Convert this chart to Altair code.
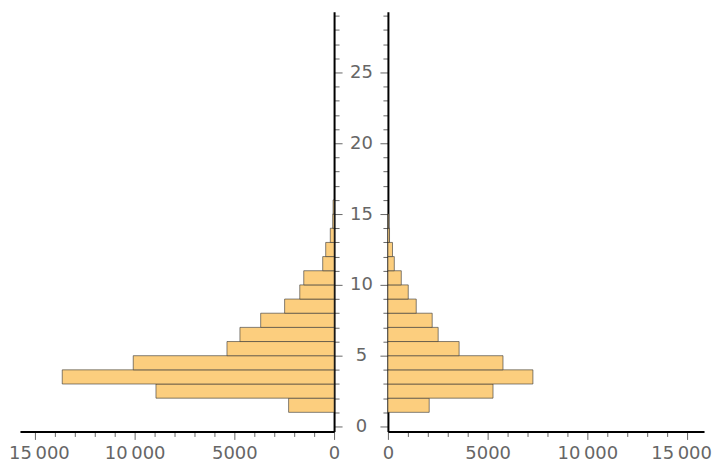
import altair as alt
import pandas as pd

# Bin edges (lower edge of each unit-wide bin)
left_bins = [1, 2, 3, 4, 5, 6, 7, 8, 9, 10, 11, 12, 13, 14, 15]
left_counts = [2280, 8930, 13630, 10070, 5370, 4720, 3680, 2480, 1720, 1520, 570, 420, 190, 70, 50]

right_bins = [1, 2, 3, 4, 5, 6, 7, 8, 9, 10, 11, 12, 13, 14]
right_counts = [2070, 5270, 7270, 5770, 3570, 2520, 2220, 1420, 1020, 670, 320, 230, 80, 40]

x_ticks = list(range(0, 16000, 1000))
y_ticks = list(range(0, 30))

FILL = "#FCCE7E"
FONT = "DejaVu Sans"
GREY = "#666666"

df_left = pd.DataFrame({"start": left_bins, "end": [b + 1 for b in left_bins], "count": left_counts})
df_right = pd.DataFrame({"start": right_bins, "end": [b + 1 for b in right_bins], "count": right_counts})

x_label_expr = ("datum.value % 5000 != 0 ? '' : (datum.value >= 10000 ? "
                "format(floor(datum.value / 1000), 'd') + '\u2009000' : format(datum.value, 'd'))")


def x_axis(offset_cond):
    kw = dict(
        values=x_ticks, labelExpr=x_label_expr, title=None, grid=False,
        domainColor="black", domainWidth=2, tickColor=GREY, tickWidth=1,
        tickSize={"condition": {"test": "datum.value % 5000 === 0", "value": 8}, "value": 5},
        labelColor=GREY, labelFont=FONT,
        labelFontSize={"condition": {"test": "datum.value % 5000 === 0", "value": 18}, "value": 0},
        labelPadding=4.7,
        labelAngle=0, labelOverlap=False, labelFlush=False, labelBound=False,
        labelOffset=offset_cond,
    )
    return alt.Axis(**kw)


def y_axis(orient, labels):
    kw = dict(
        orient=orient, values=y_ticks, title=None, grid=False,
        domainColor="black", domainWidth=2, tickColor=GREY, tickWidth=1,
        tickSize={"condition": {"test": "datum.value % 5 === 0", "value": 8}, "value": 5},
        labels=labels,
    )
    if labels:
        kw.update(labelExpr="datum.value % 5 === 0 ? datum.label : ''",
                  labelColor=GREY, labelFont=FONT,
                  labelFontSize={"condition": {"test": "datum.value % 5 === 0", "value": 18}, "value": 0},
                  labelAlign="center", labelPadding=19, labelBaseline="middle",
                  labelOverlap=False, labelFlush=False, labelBound=False)
    return alt.Axis(**kw)


y_scale = alt.Scale(domain=[-0.35, 29.3], nice=False, zero=False)

left = alt.Chart(df_left).mark_rect(
    fill=FILL, stroke="#333333", strokeOpacity=0.6, strokeWidth=1
).encode(
    x=alt.X("count:Q", scale=alt.Scale(domain=[0, 15750], reverse=True, nice=False),
            axis=x_axis({"condition": {"test": "datum.value === 15000", "value": 4}, "value": 0})),
    x2=alt.datum(0),
    y=alt.Y("start:Q", scale=y_scale, axis=y_axis("right", True)),
    y2="end:Q",
).properties(width=315, height=421)

right = alt.Chart(df_right).mark_rect(
    fill=FILL, stroke="#333333", strokeOpacity=0.6, strokeWidth=1
).encode(
    x=alt.X("count:Q", scale=alt.Scale(domain=[0, 15850], nice=False),
            axis=x_axis({"condition": {"test": "datum.value === 15000", "value": -6}, "value": 0})),
    x2=alt.datum(0),
    y=alt.Y("start:Q", scale=y_scale, axis=y_axis("left", False)),
    y2="end:Q",
).properties(width=317, height=421)

chart = alt.hconcat(left, right, spacing=54, bounds="flush").properties(
    padding={"left": 0, "top": 3, "right": 0, "bottom": 0},
    background="white",
).configure_view(stroke=None)

chart.save("out.html", embed_options={"renderer": "svg", "actions": False})
